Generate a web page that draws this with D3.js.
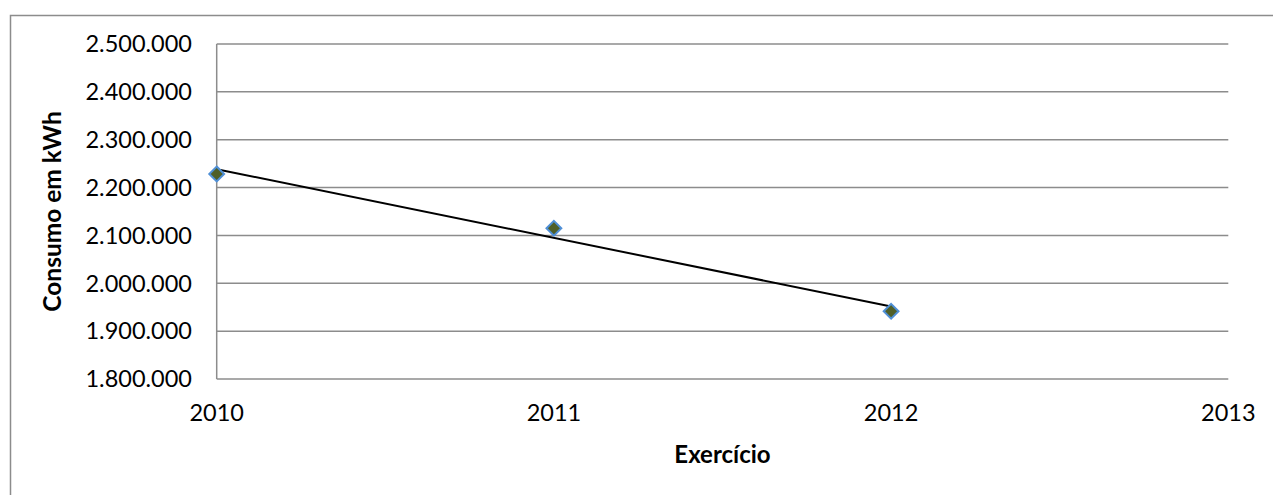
<!DOCTYPE html>
<html>
<head>
<meta charset="utf-8">
<script src="https://cdn.jsdelivr.net/npm/d3@7/dist/d3.min.js"></script>
<style>
  html, body { margin: 0; padding: 0; background: #fff; }
  svg { display: block; font-family: Lato, "Open Sans", sans-serif; }
</style>
</head>
<body>
<svg id="chart" width="1273" height="495"></svg>
<script>
// Annual electricity consumption (kWh) per fiscal year
const years = [2010, 2011, 2012];
const consumption = [2228400, 2114900, 1941500];
const xTicks = [2010, 2011, 2012, 2013];
const yTicks = [1800000, 1900000, 2000000, 2100000, 2200000, 2300000, 2400000, 2500000];

const svg = d3.select("#chart");
const plot = { left: 216.7, right: 1228.3, top: 44, bottom: 379 };

const x = d3.scaleLinear().domain([2010, 2013]).range([plot.left, plot.right]);
const y = d3.scaleLinear().domain([1800000, 2500000]).range([plot.bottom, plot.top]);

const ptBR = d3.formatLocale({ decimal: ",", thousands: ".", grouping: [3], currency: ["R$", ""] });
const fmt = ptBR.format(",.0f");

// outer chart frame
svg.append("rect")
  .attr("x", 10.5).attr("y", 15.5)
  .attr("width", 1300).attr("height", 520)
  .attr("fill", "none").attr("stroke", "#8c8c8c").attr("stroke-width", 1.5);

// horizontal gridlines
svg.append("g")
  .selectAll("line")
  .data(yTicks)
  .join("line")
  .attr("x1", plot.left).attr("x2", plot.right)
  .attr("y1", d => y(d)).attr("y2", d => y(d))
  .attr("stroke", "#8c8c8c").attr("stroke-width", 1.5);

// vertical axis line
svg.append("line")
  .attr("x1", plot.left).attr("x2", plot.left)
  .attr("y1", plot.top).attr("y2", plot.bottom)
  .attr("stroke", "#8c8c8c").attr("stroke-width", 1.5);

// y tick labels
svg.append("g")
  .selectAll("text")
  .data(yTicks)
  .join("text")
  .attr("x", 192)
  .attr("y", d => y(d))
  .attr("dy", "0.35em")
  .attr("text-anchor", "end")
  .attr("font-size", 23.5)
  .attr("fill", "#000")
  .text(d => fmt(d));

// x tick labels
svg.append("g")
  .selectAll("text")
  .data(xTicks)
  .join("text")
  .attr("x", d => x(d))
  .attr("y", 413)
  .attr("dy", "0.35em")
  .attr("text-anchor", "middle")
  .attr("font-size", 23.5)
  .attr("fill", "#000")
  .text(d => d);

// axis titles
svg.append("text")
  .attr("x", (plot.left + plot.right) / 2)
  .attr("y", 455)
  .attr("dy", "0.35em")
  .attr("text-anchor", "middle")
  .attr("font-size", 24)
  .attr("font-weight", "bold")
  .text("Exercício");

svg.append("text")
  .attr("transform", `translate(52,${(plot.top + plot.bottom) / 2}) rotate(-90)`)
  .attr("dy", "0.35em")
  .attr("text-anchor", "middle")
  .attr("font-size", 24.5)
  .attr("font-weight", "bold")
  .text("Consumo em kWh");

// linear trend line (least squares over the observed years)
const mx = d3.mean(years), my = d3.mean(consumption);
const slope = d3.sum(years, (v, i) => (v - mx) * (consumption[i] - my)) /
              d3.sum(years, v => (v - mx) * (v - mx));
const intercept = my - slope * mx;
const trendX = [d3.min(years), d3.max(years)];
svg.append("path")
  .datum(trendX)
  .attr("d", d3.line().x(d => x(d)).y(d => y(intercept + slope * d)))
  .attr("fill", "none")
  .attr("stroke", "#000")
  .attr("stroke-width", 2);

// data markers (diamonds)
const diamond = d3.symbol().type(d3.symbolDiamond2).size(140);
svg.append("g")
  .selectAll("path")
  .data(years.map((yr, i) => ({ yr, v: consumption[i] })))
  .join("path")
  .attr("transform", d => `translate(${x(d.yr)},${y(d.v)})`)
  .attr("d", diamond)
  .attr("fill", "#4f5f28")
  .attr("stroke", "#4f8fd6")
  .attr("stroke-width", 2);
</script>
</body>
</html>
